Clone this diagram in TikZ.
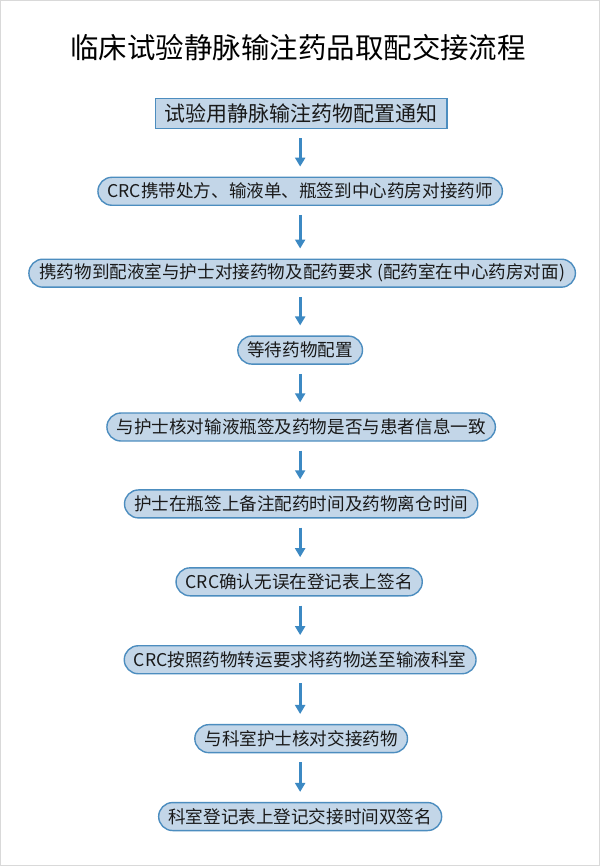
\documentclass[tikz,border=0pt]{standalone}
\usepackage{fontspec}
\setmainfont{Noto Sans CJK SC}
\usetikzlibrary{shapes.misc,arrows.meta}
\definecolor{boxfill}{HTML}{C3D6E8}
\definecolor{boxline}{HTML}{4C8DBF}
\definecolor{arrowblue}{HTML}{3C89C3}
\tikzset{
  stepbox/.style={draw=boxline,line width=1.4pt,fill=boxfill,shape=rounded rectangle,
    minimum height=28pt,inner xsep=7pt,inner ysep=2pt,font=\fontsize{17.6pt}{17.6pt}\selectfont,text=black!90},
  startbox/.style={draw=boxline,line width=1.6pt,fill=boxfill,shape=rectangle,
    minimum height=30pt,minimum width=292pt,font=\fontsize{21pt}{21pt}\selectfont,text=black!90},
  flow/.style={arrowblue,line width=3pt,shorten >=10pt,shorten <=9pt,
    -{Triangle[width=10pt,length=9pt]}}
}
\begin{document}
\begin{tikzpicture}[x=1pt,y=1pt]
   \path[draw=black!15,line width=1pt,fill=white] (0,0) rectangle (600,-866);
   \useasboundingbox (0,0) rectangle (600,-866);
   \path (298,-47) node[font=\fontsize{28.5pt}{28.5pt}\selectfont] (title) {临床试验静脉输注药品取配交接流程};
   \path (301,-113) node[startbox] (s1) {试验用静脉输注药物配置通知};
   \path (300,-191) node[stepbox] (s2) {CRC携带处方、输液单、瓶签到中心药房对接药师};
   \path (302,-273) node[stepbox] (s3) {携药物到配液室与护士对接药物及配药要求 (配药室在中心药房对面)};
   \path (300,-350) node[stepbox] (s4) {等待药物配置};
   \path (301,-427) node[stepbox] (s5) {与护士核对输液瓶签及药物是否与患者信息一致};
   \path (301,-504) node[stepbox] (s6) {护士在瓶签上备注配药时间及药物离仓时间};
   \path (299,-582) node[stepbox] (s7) {CRC确认无误在登记表上签名};
   \path (300,-660) node[stepbox] (s8) {CRC按照药物转运要求将药物送至输液科室};
   \path (301,-739) node[stepbox] (s9) {与科室护士核对交接药物};
   \path (300,-817) node[stepbox] (s10) {科室登记表上登记交接时间双签名};
   % arrows between steps
   \foreach \a/\b in {s1/s2,s2/s3,s3/s4,s4/s5,s5/s6,s6/s7,s7/s8,s8/s9,s9/s10}
     \draw[flow] (\a.south -| 300,0) -- (\b.north -| 300,0);
\end{tikzpicture}
\end{document}
